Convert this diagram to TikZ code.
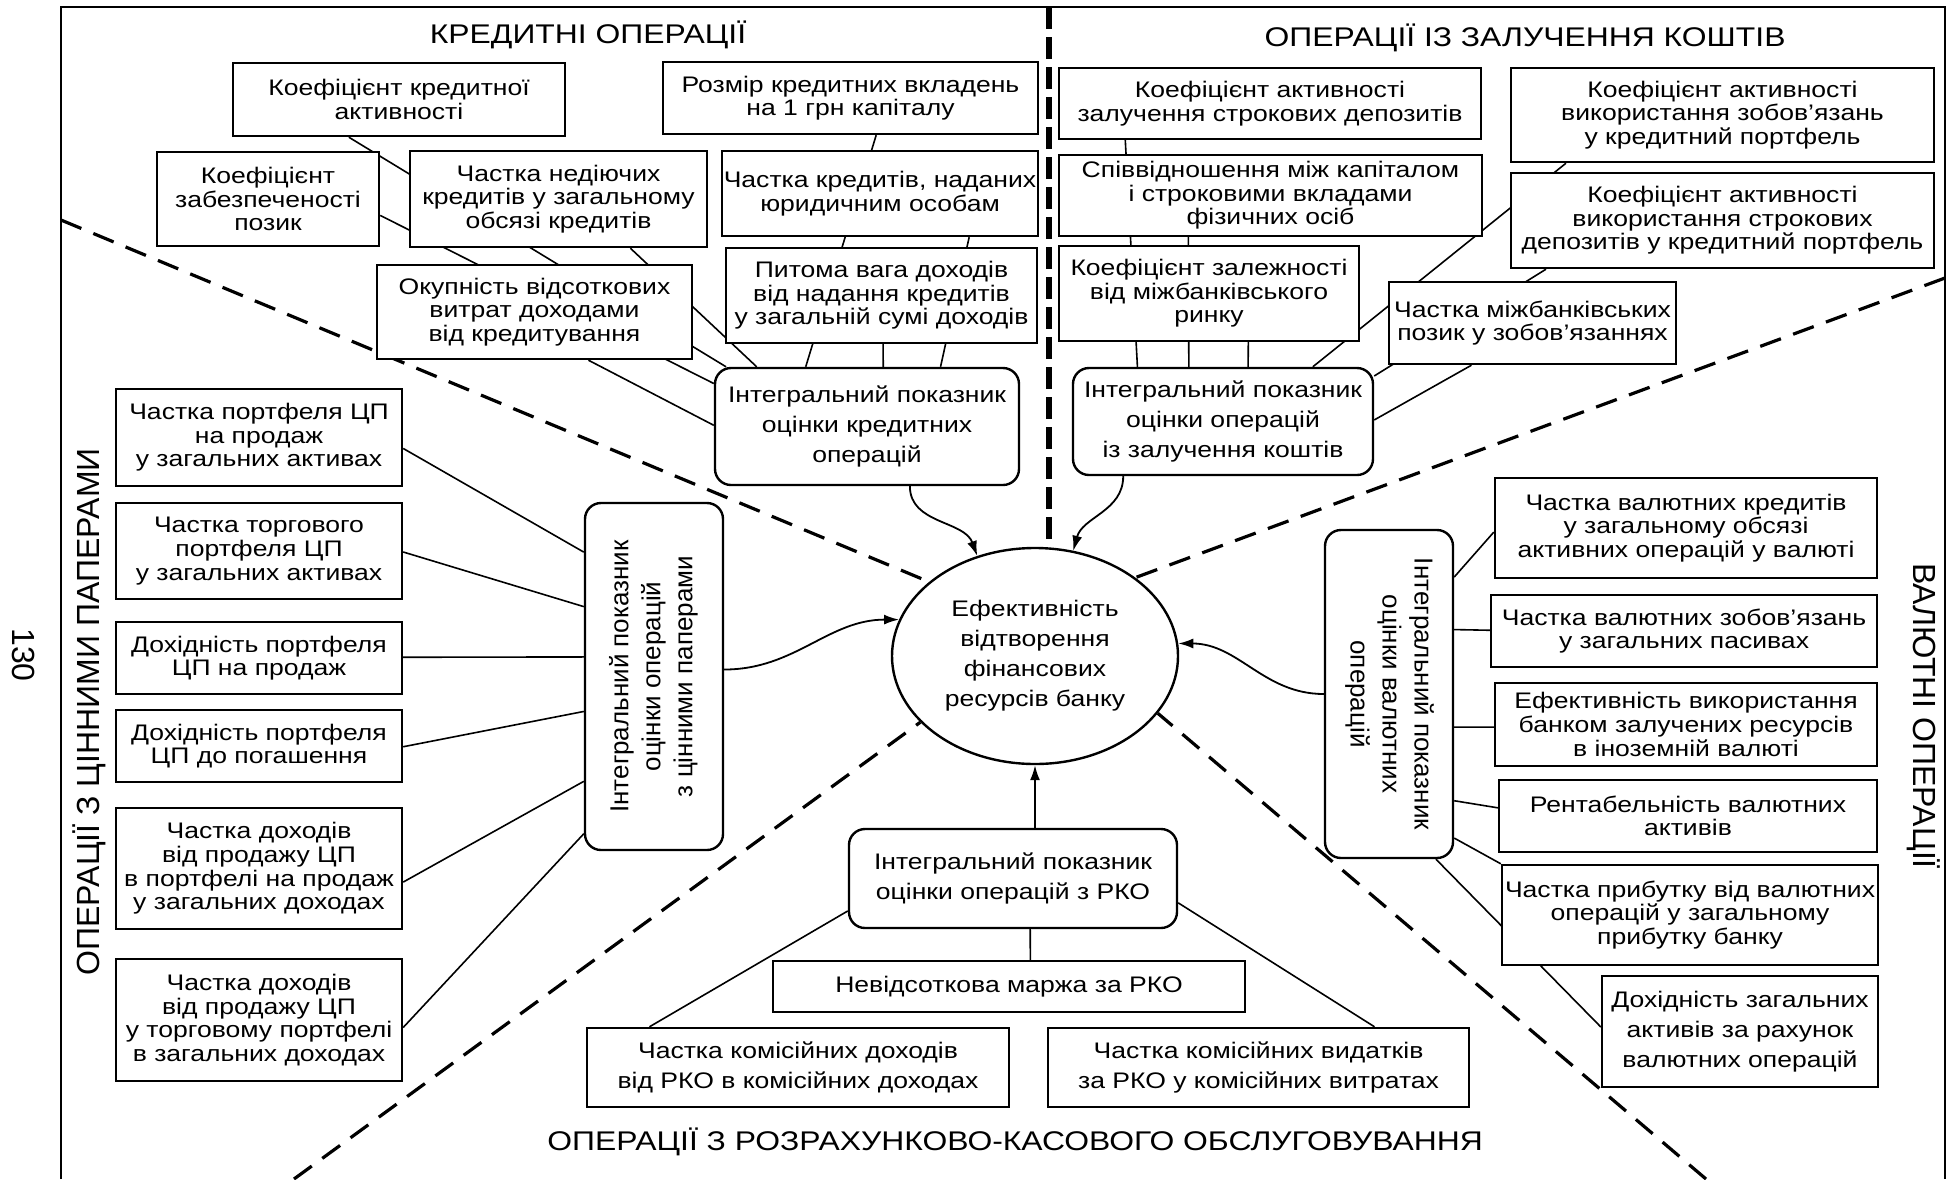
\documentclass[tikz,border=0pt]{standalone}
\usepackage{fontspec}
\setmainfont{Liberation Sans}[FakeStretch=1.18]
\newfontfamily\rotfont{Liberation Sans}
\usepackage{graphicx}
\usepackage{tikz}
\usetikzlibrary{calc}
\usetikzlibrary{arrows.meta}
\usetikzlibrary{shapes.geometric}
\usetikzlibrary{backgrounds}

\begin{document}
\begin{tikzpicture}[x=0.5pt,y=0.5pt,
  wh/.style 2 args={minimum width=#1*0.5pt, minimum height=#2*0.5pt},
  ind/.style={draw, fill=white, line width=1.2pt, align=center, inner sep=0pt, font=\fontsize{11.25pt}{11.8pt}\selectfont},
  wide/.style={font=\fontsize{11.25pt}{15pt}\selectfont},
  intg/.style={ind, rounded corners=8pt, font=\fontsize{11.25pt}{14.8pt}\selectfont},
  vtxt/.style={font=\rotfont\fontsize{13pt}{16pt}\selectfont},
  ttl/.style={font=\fontsize{13.5pt}{16pt}\selectfont},
  side/.style={font=\rotfont\fontsize{16pt}{19pt}\selectfont},
  lnk/.style={line width=0.8pt},
  sep/.style={line width=1.6pt, dash pattern=on 11pt off 6.5pt},
  arr/.style={line width=0.9pt, -{Latex[length=7.5pt,width=5pt]}}]
\useasboundingbox (0,0) rectangle (1948,-1179);

\draw[line width=1pt] (61,-1179) -- (61,-7) -- (1945,-7) -- (1945,-1179);

\node[ttl] (tK) at (588,-35) {КРЕДИТНІ ОПЕРАЦІЇ};
\node[ttl] (tD) at (1525,-38) {ОПЕРАЦІЇ ІЗ ЗАЛУЧЕННЯ КОШТІВ};
\node[ttl] (tP) at (1015,-1142) {ОПЕРАЦІЇ З РОЗРАХУНКОВО-КАСОВОГО ОБСЛУГОВУВАННЯ};
\node[side, rotate=90] (tS) at (89,-712) {ОПЕРАЦІЇ З ЦІННИМИ ПАПЕРАМИ};
\node[side, rotate=-90] (tV) at (1924,-716) {ВАЛЮТНІ ОПЕРАЦІЇ};
\node[side, rotate=-90] (pg) at (24,-655) {130};

\node[draw, fill=white, ellipse, line width=1.2pt, wh={286}{216}, inner sep=0pt, align=center, font=\fontsize{11.25pt}{15pt}\selectfont] (el) at (1035,-656) {Ефективність\\відтворення\\фінансових\\ресурсів банку};

\node[ind, wh={332}{73}] (K1) at (399,-99.5) {Коефіцієнт кредитної\\активності};
\node[ind, wh={375}{72}] (R) at (850.5,-98) {Розмір кредитних вкладень\\на 1 грн капіталу};
\node[ind, wh={222}{94}] (KZ) at (268,-199) {Коефіцієнт\\забезпеченості\\позик};
\node[ind, wh={297}{96}] (ND) at (558.5,-199) {Частка недіючих\\кредитів у загальному\\обсязі кредитів};
\node[ind, wh={316}{85}] (YO) at (880,-193.5) {Частка кредитів, наданих\\юридичним особам};
\node[ind, wh={315}{94}] (OK) at (534.5,-312) {Окупність відсоткових\\витрат доходами\\від кредитування};
\node[ind, wh={311}{95}] (PV) at (881.5,-295.5) {Питома вага доходів\\від надання кредитів\\у загальній сумі доходів};
\node[intg, wh={304}{117}] (CI) at (867,-426.5) {Інтегральний показник\\оцінки кредитних\\операцій};

\node[ind, wh={422}{71}] (D1) at (1270,-103.5) {Коефіцієнт активності\\залучення строкових депозитів};
\node[ind, wh={423}{81}] (D2) at (1270.5,-195.5) {Співвідношення між капіталом\\і строковими вкладами\\фізичних осіб};
\node[ind, wh={300}{95}] (D3) at (1209,-293.5) {Коефіцієнт залежності\\від міжбанківського\\ринку};
\node[ind, wh={423}{94}] (D4) at (1722.5,-115) {Коефіцієнт активності\\використання зобов’язань\\у кредитний портфель};
\node[ind, wh={423}{95}] (D5) at (1722.5,-220.5) {Коефіцієнт активності\\використання строкових\\депозитів у кредитний портфель};
\node[ind, wh={287}{82}] (D6) at (1532.5,-323) {Частка міжбанківських\\позик у зобов’язаннях};
\node[intg, wh={300}{107}] (DI) at (1223,-421.5) {Інтегральний показник\\оцінки операцій\\із залучення коштів};

\node[ind, wh={286}{97}] (S1) at (259,-437.5) {Частка портфеля ЦП\\на продаж\\у загальних активах};
\node[ind, wh={286}{96}] (S2) at (259,-551) {Частка торгового\\портфеля ЦП\\у загальних активах};
\node[ind, wh={286}{72}] (S3) at (259,-658) {Дохідність портфеля\\ЦП на продаж};
\node[ind, wh={286}{72}] (S4) at (259,-746) {Дохідність портфеля\\ЦП до погашення};
\node[ind, wh={286}{121}] (S5) at (259,-868.5) {Частка доходів\\від продажу ЦП\\в портфелі на продаж\\у загальних доходах};
\node[ind, wh={286}{122}] (S6) at (259,-1020) {Частка доходів\\від продажу ЦП\\у торговому портфелі\\в загальних доходах};
\node[intg, vtxt, wh={138}{347}] (SI) at (654,-676.5) {\rotatebox{90}{\begin{tabular}{@{}c@{}}Інтегральний показник\\оцінки операцій\\з цінними паперами\end{tabular}}};

\node[ind, wh={382}{100}] (V1) at (1686,-528) {Частка валютних кредитів\\у загальному обсязі\\активних операцій у валюті};
\node[ind, wh={386}{72}] (V2) at (1684,-631) {Частка валютних зобов’язань\\у загальних пасивах};
\node[ind, wh={382}{83}] (V3) at (1686,-724.5) {Ефективність використання\\банком залучених ресурсів\\в іноземній валюті};
\node[ind, wh={378}{72}] (V4) at (1688,-816) {Рентабельність валютних\\активів};
\node[ind, wh={376}{100}] (V5) at (1690,-915) {Частка прибутку від валютних\\операцій у загальному\\прибутку банку};
\node[ind, wide, wh={276}{111}] (V6) at (1740,-1031.5) {Дохідність загальних\\активів за рахунок\\валютних операцій};
\node[intg, vtxt, wh={128}{328}] (VI) at (1389,-694) {\rotatebox{-90}{\begin{tabular}{@{}c@{}}Інтегральний показник\\оцінки валютних\\операцій\end{tabular}}};

\node[intg, wh={328}{99}] (RI) at (1013,-878.5) {Інтегральний показник\\оцінки операцій з РКО};
\node[ind, wh={472}{51}] (M) at (1009,-986.5) {Невідсоткова маржа за РКО};
\node[ind, wide, wh={422}{79}] (P1) at (798,-1067.5) {Частка комісійних доходів\\від РКО в комісійних доходах};
\node[ind, wide, wh={421}{79}] (P2) at (1258.5,-1067.5) {Частка комісійних видатків\\за РКО у комісійних витратах};

\begin{pgfonlayer}{background}
\coordinate (dT) at (1049,-7);
\coordinate (dL) at (61,-220);
\coordinate (dR) at (1945,-278);
\coordinate (dBL) at (294,-1179);
\coordinate (dBR) at (1706,-1179);
\draw[sep, line width=3pt, dash pattern=on 11pt off 4pt] (dT) -- (dT |- el.north);
\draw[sep] (dL) -- (el.145);
\draw[sep] (dR) -- (el.38);
\draw[sep] (dBL) -- (el.210);
\draw[sep] (dBR) -- (el.335);

\draw[lnk] ($(K1.south west)!.35!(K1.south east)$) -- ($(CI.north west)!.04!(CI.north east)$);
\draw[lnk] ($(KZ.north east)!.67!(KZ.south east)$) -- ($(CI.north west)!.14!(CI.south west)$);
\draw[lnk] ($(ND.south west)!.74!(ND.south east)$) -- ($(CI.north west)!.14!(CI.north east)$);
\draw[lnk] ($(OK.south west)!.67!(OK.south east)$) -- ($(CI.north west)!.49!(CI.south west)$);
\draw[lnk] ($(R.south west)!.568!(R.south east)$) -- ($(CI.north west)!.30!(CI.north east)$);
\draw[lnk] ($(YO.south west)!.78!(YO.south east)$) -- ($(CI.north west)!.74!(CI.north east)$);
\draw[lnk] ($(PV.south west)!.505!(PV.south east)$) -- ($(CI.north west)!.553!(CI.north east)$);

\draw[lnk] ($(D1.south west)!.159!(D1.south east)$) -- ($(DI.north west)!.217!(DI.north east)$);
\draw[lnk] ($(D2.south west)!.307!(D2.south east)$) -- ($(DI.north west)!.387!(DI.north east)$);
\draw[lnk] ($(D3.south west)!.63!(D3.south east)$) -- ($(DI.north west)!.583!(DI.north east)$);
\draw[lnk] ($(D4.south west)!.132!(D4.south east)$) -- ($(DI.north west)!.797!(DI.north east)$);
\draw[lnk] ($(D5.south west)!.085!(D5.south east)$) -- ($(DI.north east)!.084!(DI.south east)$);
\draw[lnk] ($(D6.south west)!.289!(D6.south east)$) -- ($(DI.north east)!.486!(DI.south east)$);

\draw[lnk] ($(S1.north east)!.61!(S1.south east)$) -- ($(SI.north west)!.144!(SI.south west)$);
\draw[lnk] ($(S2.north east)!.51!(S2.south east)$) -- ($(SI.north west)!.30!(SI.south west)$);
\draw[lnk] ($(S3.north east)!.49!(S3.south east)$) -- ($(SI.north west)!.444!(SI.south west)$);
\draw[lnk] ($(S4.north east)!.51!(S4.south east)$) -- ($(SI.north west)!.60!(SI.south west)$);
\draw[lnk] ($(S5.north east)!.61!(S5.south east)$) -- ($(SI.north west)!.80!(SI.south west)$);
\draw[lnk] ($(S6.north east)!.56!(S6.south east)$) -- ($(SI.north west)!.95!(SI.south west)$);

\draw[lnk] ($(V1.north west)!.54!(V1.south west)$) -- ($(VI.north east)!.146!(VI.south east)$);
\draw[lnk] ($(V2.north west)!.49!(V2.south west)$) -- ($(VI.north east)!.305!(VI.south east)$);
\draw[lnk] ($(V3.north west)!.53!(V3.south west)$) -- ($(VI.north east)!.60!(VI.south east)$);
\draw[lnk] ($(V4.north west)!.39!(V4.south west)$) -- ($(VI.north east)!.823!(VI.south east)$);
\draw[lnk] (V5.north west) -- ($(VI.north east)!.936!(VI.south east)$);
\draw[lnk] ($(V6.north west)!.46!(V6.south west)$) -- ($(VI.south west)!.86!(VI.south east)$);

\draw[lnk] ($(RI.south west)!.552!(RI.south east)$) -- ($(M.north west)!.545!(M.north east)$);
\draw[lnk] ($(RI.north west)!.82!(RI.south west)$) -- ($(P1.north west)!.15!(P1.north east)$);
\draw[lnk] ($(RI.north east)!.74!(RI.south east)$) -- ($(P2.north west)!.774!(P2.north east)$);
\end{pgfonlayer}

\draw[arr] ($(CI.south west)!.64!(CI.south east)$) to[out=-90,in=110] (el.120);
\draw[arr] ($(DI.south west)!.17!(DI.south east)$) to[out=-90,in=75] (el.70);
\draw[arr] ($(SI.north east)!.48!(SI.south east)$) to[out=0,in=180] (el.165);
\draw[arr] (VI.west) to[out=180,in=0] (el.5);
\draw[arr] (RI.north -| el.south) -- (el.south);

\end{tikzpicture}
\end{document}
